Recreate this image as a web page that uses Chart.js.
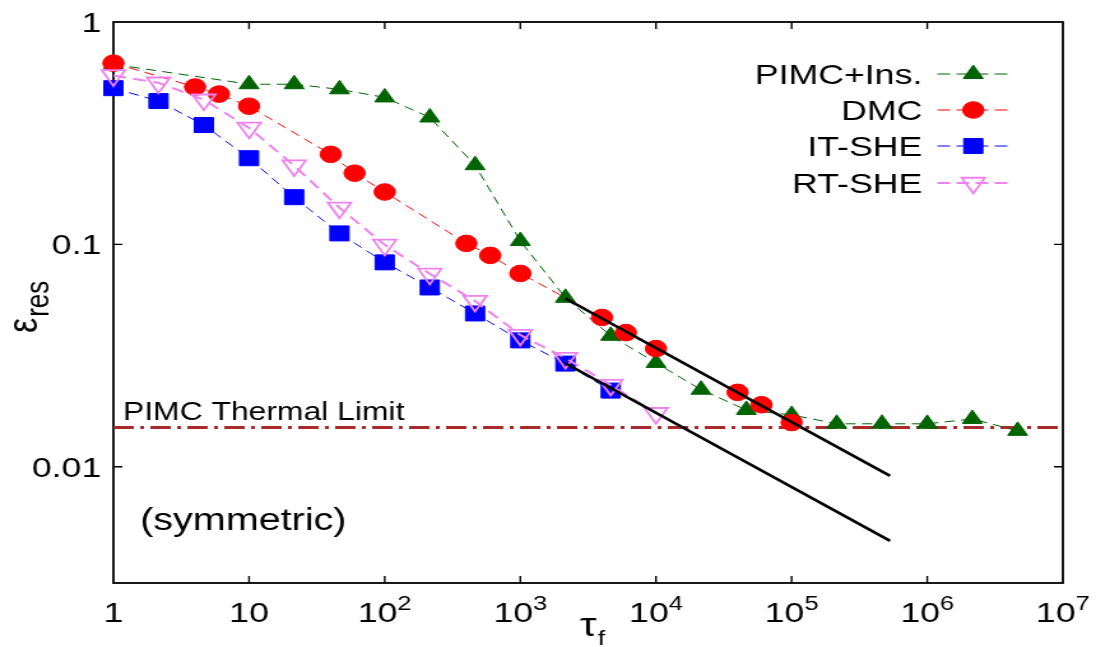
<!DOCTYPE html>
<html lang="en">
<head>
<meta charset="UTF-8">
<title>Residual energy vs annealing time</title>
<script src="https://cdn.jsdelivr.net/npm/chart.js"></script>
<style>
  html, body { margin: 0; padding: 0; background: #fff; overflow: hidden; }
  /* the figure is drawn narrower and stretched sideways, like the original */
  #plot { display: block; width: 1096px !important; height: 647px !important; }
</style>
</head>
<body>
<canvas id="plot" width="860" height="647" style="width:1096px;height:647px"></canvas>
<script>
// values: tau_f (x) against eps_res (y), both log
const pimcX = [1, 10, 21.5, 46.4, 100, 215, 464, 1000, 2150, 4640, 1e4, 2.15e4, 4.64e4, 1e5, 2.15e5, 4.64e5, 1e6, 2.15e6, 4.64e6];
const pimcY = [0.645, 0.525, 0.525, 0.498, 0.458, 0.372, 0.227, 0.1035, 0.0575, 0.0388, 0.0293, 0.0222, 0.018, 0.0171, 0.0156, 0.0156, 0.0156, 0.0164, 0.0145];

const dmcX = [1, 4, 6, 10, 40, 60, 100, 400, 600, 1000, 4000, 6000, 1e4, 4e4, 6e4, 1e5];
const dmcY = [0.653, 0.51, 0.474, 0.418, 0.254, 0.209, 0.172, 0.101, 0.0892, 0.074, 0.0469, 0.0401, 0.034, 0.0216, 0.019, 0.0158];

const itX = [1, 2.15, 4.64, 10, 21.5, 46.4, 100, 215, 464, 1000, 2150, 4640];
const itY = [0.504, 0.441, 0.344, 0.244, 0.163, 0.112, 0.083, 0.064, 0.0489, 0.037, 0.0291, 0.022];

const rtX = [1, 2.15, 4.64, 10, 21.5, 46.4, 100, 215, 464, 1000, 2150, 4640, 1e4];
const rtY = [0.575, 0.533, 0.447, 0.334, 0.226, 0.146, 0.0995, 0.0737, 0.0556, 0.0391, 0.0308, 0.0233, 0.0174];

// tau^-1/3 guide lines
const fitX = [2150, 5.32e5];
const fitUpperY = [0.0571, 0.0091];
const fitLowerY = [0.0292, 0.00464];

const thermalX = [1, 1e7];
const thermalLevel = 0.015;

const xTicks = [1, 10, 1e2, 1e3, 1e4, 1e5, 1e6, 1e7];
const xTickExp = [0, 1, 2, 3, 4, 5, 6, 7];
const yTicks = [1, 0.1, 0.01];
const yTickLabels = ['1', '0.1', '0.01'];

const legendRows = ['PIMC+Ins.', 'DMC', 'IT-SHE', 'RT-SHE'];

const FONT = '"Liberation Sans", Arial, Helvetica, sans-serif';
const pts = (xs, ys) => xs.map((x, i) => ({ x: x, y: ys[i] }));

const datasets = [
  { label: 'fit-upper', data: pts(fitX, fitUpperY), borderColor: '#000', borderWidth: 2.6, pointRadius: 0, order: 0 },
  { label: 'fit-lower', data: pts(fitX, fitLowerY), borderColor: '#000', borderWidth: 2.6, pointRadius: 0, order: 0 },
  { label: 'RT-SHE', data: pts(rtX, rtY), borderColor: '#ee82ee', borderWidth: 2, borderDash: [10, 6],
    pointStyle: 'triangle', pointRotation: 180, pointRadius: 10.5,
    pointBackgroundColor: 'rgba(0,0,0,0)', pointBorderColor: '#ee82ee', pointBorderWidth: 1.8, order: 1 },
  { label: 'DMC', data: pts(dmcX, dmcY), borderColor: '#ff0000', borderWidth: 1, borderDash: [8, 5],
    pointStyle: 'circle', pointRadius: 8.3,
    pointBackgroundColor: '#ff0000', pointBorderColor: '#ff0000', pointBorderWidth: 1, order: 2 },
  { label: 'IT-SHE', data: pts(itX, itY), borderColor: '#0000ff', borderWidth: 1, borderDash: [8, 5],
    pointStyle: 'rect', pointRadius: 10.6,
    pointBackgroundColor: '#0000ff', pointBorderColor: '#0000ff', pointBorderWidth: 1, order: 3 },
  { label: 'PIMC+Ins.', data: pts(pimcX, pimcY), borderColor: '#006400', borderWidth: 1, borderDash: [8, 5],
    pointStyle: 'triangle', pointRadius: 9,
    pointBackgroundColor: '#006400', pointBorderColor: '#006400', pointBorderWidth: 1, order: 4 },
  { label: 'thermal', data: pts(thermalX, [thermalLevel, thermalLevel]), borderColor: '#a82a2a', borderWidth: 3,
    borderDash: [16, 5, 3, 5], pointRadius: 0, order: 5 }
];

function drawMarker(ctx, ds, x, y) {
  ctx.save();
  ctx.setLineDash([]);
  ctx.fillStyle = ds.pointBackgroundColor;
  ctx.strokeStyle = ds.pointBorderColor;
  ctx.lineWidth = ds.pointBorderWidth;
  Chart.helpers.drawPoint(ctx, {
    pointStyle: ds.pointStyle, rotation: ds.pointRotation || 0,
    radius: ds.pointRadius, borderWidth: ds.pointBorderWidth
  }, x, y);
  ctx.restore();
}

const decor = {
  id: 'decor',
  beforeDatasetsDraw(chart) {
    const { ctx, chartArea: a } = chart;
    const xs = chart.scales.x, ys = chart.scales.y;
    ctx.save();
    ctx.strokeStyle = '#000';
    ctx.lineWidth = 1.8;
    ctx.strokeRect(a.left, a.top, a.right - a.left, a.bottom - a.top);
    ctx.lineWidth = 1.4;
    ctx.beginPath();
    xTicks.forEach(v => {
      const px = xs.getPixelForValue(v);
      if (px < a.left + 2 || px > a.right - 2) return;
      ctx.moveTo(px, a.bottom); ctx.lineTo(px, a.bottom - 7);
      ctx.moveTo(px, a.top); ctx.lineTo(px, a.top + 7);
    });
    yTicks.forEach(v => {
      const py = ys.getPixelForValue(v);
      if (py < a.top + 2 || py > a.bottom - 2) return;
      ctx.moveTo(a.left, py); ctx.lineTo(a.left + 7, py);
      ctx.moveTo(a.right, py); ctx.lineTo(a.right - 7, py);
    });
    ctx.stroke();
    ctx.restore();
  },
  afterDraw(chart) {
    const { ctx, chartArea: a } = chart;
    const xs = chart.scales.x, ys = chart.scales.y;
    ctx.save();
    ctx.fillStyle = '#000';
    ctx.textBaseline = 'alphabetic';

    // x tick labels, powers of ten with superscripts
    xTicks.forEach((v, i) => {
      const px = xs.getPixelForValue(v);
      const e = xTickExp[i];
      const base = e === 0 ? '1' : '10';
      ctx.font = `28px ${FONT}`;
      const wb = ctx.measureText(base).width;
      let ws = 0, sup = '';
      if (e > 1) {
        sup = String(e);
        ctx.font = `20px ${FONT}`;
        ws = ctx.measureText(sup).width;
      }
      const x0 = px - (wb + ws) / 2;
      ctx.textAlign = 'left';
      ctx.font = `28px ${FONT}`;
      ctx.fillText(base, x0, 622);
      if (sup) {
        ctx.font = `20px ${FONT}`;
        ctx.fillText(sup, x0 + wb, 610);
      }
    });

    // y tick labels
    ctx.font = `28px ${FONT}`;
    ctx.textAlign = 'right';
    yTicks.forEach((v, i) => {
      ctx.fillText(yTickLabels[i], a.left - 9.5, ys.getPixelForValue(v) + 10);
    });

    // axis titles
    ctx.textAlign = 'left';
    ctx.font = `33px ${FONT}`;
    ctx.fillText('τ', 455, 636);
    ctx.font = `21px ${FONT}`;
    ctx.fillText('f', 469, 645);

    ctx.save();
    ctx.translate(29, 333);
    ctx.rotate(-Math.PI / 2);
    ctx.font = `34px ${FONT}`;
    ctx.fillText('ε', 0, 0);
    const we = ctx.measureText('ε').width;
    ctx.font = `26px ${FONT}`;
    ctx.fillText('res', we + 1, 8.7);
    ctx.restore();

    // annotations
    ctx.font = `25px ${FONT}`;
    ctx.fillText('PIMC Thermal Limit', 96.5, 420);
    ctx.font = `31px ${FONT}`;
    ctx.fillText('(symmetric)', 110, 530);

    // key, text on the left of the sample
    const rowY = [74, 110, 146, 183];
    legendRows.forEach((name, i) => {
      const ds = chart.data.datasets.find(d => d.label === name);
      const y = rowY[i];
      ctx.font = `28px ${FONT}`;
      ctx.textAlign = 'right';
      ctx.fillStyle = '#000';
      ctx.fillText(name, 723.7, y + 10);
      ctx.save();
      ctx.strokeStyle = ds.borderColor;
      ctx.lineWidth = ds.borderWidth;
      ctx.setLineDash([10, 5]);
      ctx.beginPath();
      ctx.moveTo(735.5, y); ctx.lineTo(792.8, y);
      ctx.stroke();
      ctx.restore();
      drawMarker(ctx, ds, 763.7, y);
    });
    ctx.restore();
  }
};

new Chart(document.getElementById('plot').getContext('2d'), {
  type: 'line',
  data: { datasets: datasets },
  options: {
    responsive: false,
    animation: false,
    devicePixelRatio: 1,
    events: [],
    layout: { padding: { left: 0, right: 26, top: 22, bottom: 0 } },
    datasets: { line: { tension: 0, clip: false, fill: false } },
    plugins: { legend: { display: false }, tooltip: { enabled: false } },
    scales: {
      x: {
        type: 'logarithmic', min: 1, max: 1e7,
        grid: { display: false }, border: { display: false },
        ticks: { display: false },
        afterFit: s => { s.height = 64; }
      },
      y: {
        type: 'logarithmic', min: 0.003, max: 1,
        grid: { display: false }, border: { display: false },
        ticks: { display: false },
        afterFit: s => { s.width = 89; }
      }
    }
  },
  plugins: [decor]
});
</script>
</body>
</html>
